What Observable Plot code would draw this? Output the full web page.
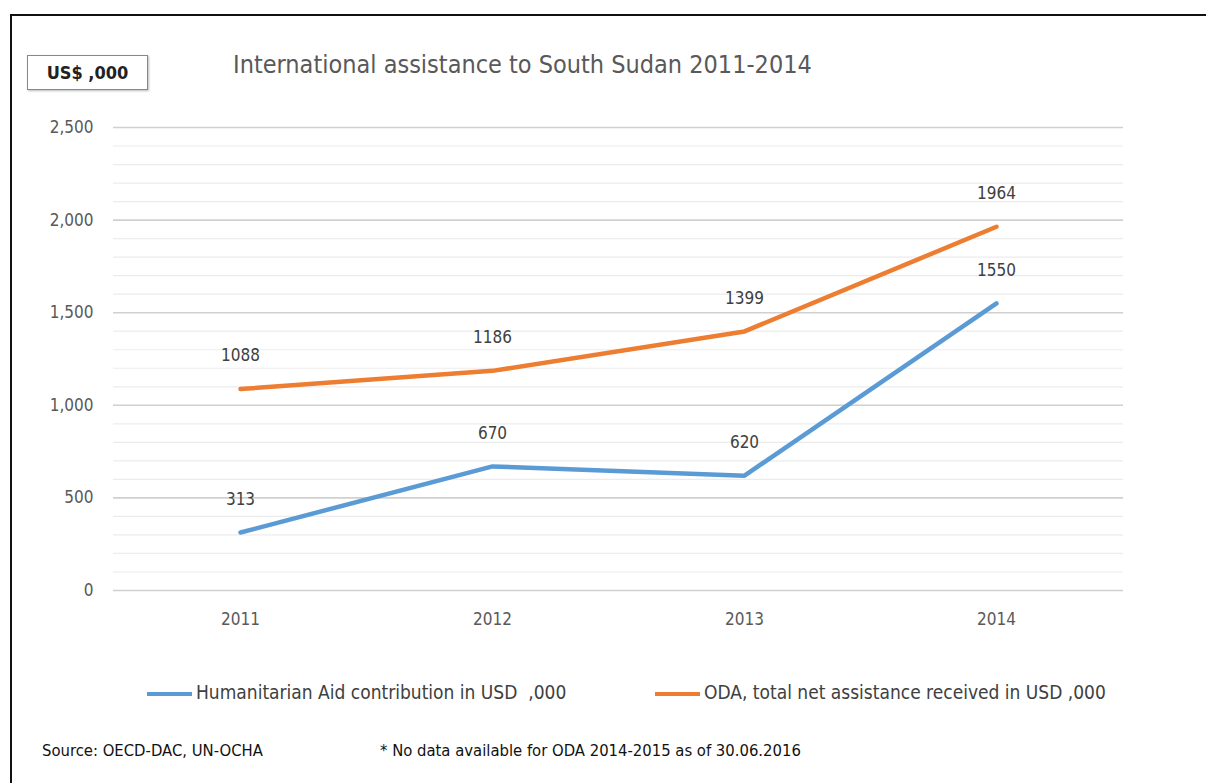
<!DOCTYPE html>
<html>
<head>
<meta charset="utf-8">
<script src="https://cdn.jsdelivr.net/npm/d3@7"></script>
<script src="https://cdn.jsdelivr.net/npm/@observablehq/plot@0.6"></script>
<style>
  html, body { margin: 0; padding: 0; background: #fff; }
  body { width: 1206px; height: 783px; position: relative; overflow: hidden;
         font-family: "DejaVu Sans Condensed", "Liberation Sans Narrow", sans-serif; color: #595959; }
  #frame { position: absolute; left: 10px; top: 14px; width: 1300px; height: 900px;
           border-top: 2px solid #111; border-left: 2px solid #111; }
  #unit { position: absolute; left: 27px; top: 55px; width: 119px; height: 33px; border: 1px solid #888;
          box-shadow: 1px 1px 2px #bbb; font-weight: bold; font-size: 18px; color: #222;
          line-height: 33px; text-align: center; }
  #title { position: absolute; left: 233px; top: 50px; font-size: 25px; white-space: nowrap; color: #595959; }
  #chart { position: absolute; left: 0; top: 100px; }
  .leg { position: absolute; top: 681px; font-size: 19px; white-space: nowrap; color: #404040; }
  .leg span.sw { display: inline-block; width: 45px; height: 4px; vertical-align: middle; margin-right: 4px; }
  .foot { position: absolute; top: 741px; font-size: 16.5px; white-space: nowrap; color: #111; }
</style>
</head>
<body>
<div id="frame"></div>
<div id="unit">US$ ,000</div>
<div id="title">International assistance to South Sudan 2011-2014</div>
<div id="chart"></div>
<div class="leg" style="left:147px"><span class="sw" style="background:#5B9BD5"></span>Humanitarian Aid contribution in USD&nbsp; ,000</div>
<div class="leg" style="left:655px"><span class="sw" style="background:#ED7D31"></span>ODA, total net assistance received in USD ,000</div>
<div class="foot" style="left:42px">Source: OECD-DAC, UN-OCHA</div>
<div class="foot" style="left:380px">* No data available for ODA 2014-2015 as of 30.06.2016</div>
<script>
const years = ["2011", "2012", "2013", "2014"];
const humanitarian = [313, 670, 620, 1550];
const oda = [1088, 1186, 1399, 1964];
const seriesNames = ["Humanitarian Aid contribution in USD  ,000", "ODA, total net assistance received in USD ,000"];
const seriesColors = ["#5B9BD5", "#ED7D31"];
const majorTicks = [0, 500, 1000, 1500, 2000, 2500];
const minorTicks = d3.range(0, 2501, 100).filter(v => v % 500 !== 0);

const rows = [];
years.forEach((y, i) => {
  rows.push({year: y, value: humanitarian[i], series: seriesNames[0]});
  rows.push({year: y, value: oda[i], series: seriesNames[1]});
});

const fmt = d3.format(",");

const chart = Plot.plot({
  width: 1206,
  height: 540,
  marginLeft: 113,
  marginRight: 83,
  marginTop: 27,
  marginBottom: 50,
  style: {fontFamily: '"DejaVu Sans Condensed", "Liberation Sans Narrow", sans-serif', fontSize: "17px", color: "#595959", background: "transparent"},
  x: {type: "point", domain: years, padding: 0.5, label: null},
  y: {domain: [0, 2500], label: null},
  color: {domain: seriesNames, range: seriesColors},
  marks: [
    Plot.ruleY(minorTicks, {stroke: "#ececec", strokeWidth: 1.2}),
    Plot.ruleY(majorTicks, {stroke: "#d0d0d0", strokeWidth: 1.6}),
    Plot.axisY(majorTicks, {tickSize: 0, tickPadding: 20, tickFormat: fmt, fontSize: 17}),
    Plot.axisX({tickSize: 0, tickPadding: 22, fontSize: 17}),
    Plot.line(rows, {x: "year", y: "value", z: "series", stroke: "series", strokeWidth: 4.5, strokeLinecap: "round", strokeLinejoin: "round"}),
    Plot.text(rows, {x: "year", y: "value", text: d => String(d.value), dy: -33, fontSize: 17, fill: "#404040"})
  ]
});
document.getElementById("chart").appendChild(chart);
</script>
</body>
</html>
